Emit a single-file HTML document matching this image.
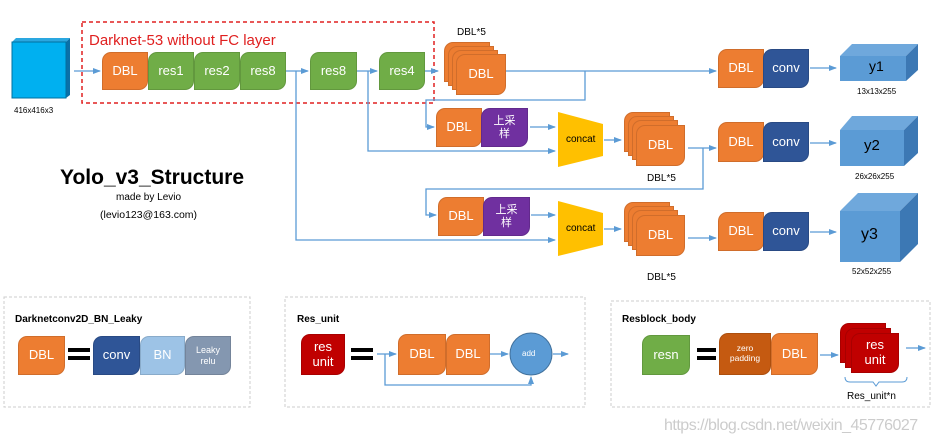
<!DOCTYPE html>
<html><head><meta charset="utf-8"><style>
body{margin:0;width:944px;height:443px;background:#fff;position:relative;overflow:hidden;font-family:"Liberation Sans","Noto Sans CJK SC",sans-serif}
.b{position:absolute;border-radius:9px 0 9px 0;color:#fff;display:flex;align-items:center;justify-content:center;text-align:center;font-size:13px;box-sizing:border-box;border:1px solid rgba(0,0,0,0.12);line-height:1.15}
.o{background:#ed7d31}.g{background:#70ad47}.p{background:#7030a0;font-size:11px}.c{background:#2f5597}.r{background:#c00000}
.t{position:absolute;white-space:nowrap}
svg{position:absolute;left:0;top:0}
</style></head><body>
<svg width="944" height="443">
<defs><marker id="a" markerWidth="8" markerHeight="8" refX="7" refY="4" orient="auto" markerUnits="userSpaceOnUse"><path d="M0,1 L8,4 L0,7z" fill="#5b9bd5"/></marker></defs>
<rect x="82" y="22" width="352" height="81" fill="none" stroke="#e02020" stroke-width="1.5" stroke-dasharray="4,3"/>
<!-- cube -->
<polygon points="12,42 16,38 70,38 66,42" fill="#2aa7e0"/><polygon points="66,42 70,38 70,95 66,98" fill="#0a70a8"/>
<rect x="12" y="42" width="54" height="56" fill="#00b0f0" stroke="#0070a0"/>
<g stroke="#5b9bd5" stroke-width="1.3" fill="none">
<path d="M74,71 H100" marker-end="url(#a)"/>
<path d="M286,71 H308" marker-end="url(#a)"/>
<path d="M357,71 H377" marker-end="url(#a)"/>
<path d="M425,71 H438" marker-end="url(#a)"/>
<path d="M505,71 H716" marker-end="url(#a)"/>
<path d="M585,71 V100 H426 V127 H434" marker-end="url(#a)"/>
<path d="M368,71 V151 H555" marker-end="url(#a)"/>
<path d="M296,71 V240 H555" marker-end="url(#a)"/>
<path d="M530,127 H555" marker-end="url(#a)"/>
<path d="M604,140 H621" marker-end="url(#a)"/>
<path d="M688,148 H716" marker-end="url(#a)"/>
<path d="M703,148 V189 H426 V215 H436" marker-end="url(#a)"/>
<path d="M531,215 H555" marker-end="url(#a)"/>
<path d="M604,229 H621" marker-end="url(#a)"/>
<path d="M688,238 H716" marker-end="url(#a)"/>
<path d="M810,68 H836" marker-end="url(#a)"/>
<path d="M810,143 H836" marker-end="url(#a)"/>
<path d="M810,232 H836" marker-end="url(#a)"/>
<path d="M377,354 H396" marker-end="url(#a)"/>
<path d="M490,354 H508" marker-end="url(#a)"/>
<path d="M553,354 H568" marker-end="url(#a)"/>
<path d="M385,354 V385 H531 V377" marker-end="url(#a)"/>
<path d="M820,355 H838" marker-end="url(#a)"/>
<path d="M906,348 H925" marker-end="url(#a)"/>
</g>
<path d="M845,377 Q845,382 850,382 H873 L876,386 L879,382 H902 Q907,382 907,377" stroke="#5b9bd5" fill="none"/>
<!-- concat -->
<polygon points="558,112 603,124 603,156 558,167" fill="#ffc000"/>
<polygon points="558,201 603,213 603,245 558,256" fill="#ffc000"/>
<!-- cubes y -->
<polygon points="840,56 852,44 918,44 906,56" fill="#6fa8dc"/><polygon points="906,56 918,44 918,70 906,81" fill="#3c78b4"/><rect x="840" y="56" width="66" height="25" fill="#5b9bd5"/>
<polygon points="840,130 852,116 918,116 904,130" fill="#6fa8dc"/><polygon points="904,130 918,116 918,153 904,166" fill="#3c78b4"/><rect x="840" y="130" width="64" height="36" fill="#5b9bd5"/>
<polygon points="840,211 858,193 918,193 900,211" fill="#6fa8dc"/><polygon points="900,211 918,193 918,244 900,262" fill="#3c78b4"/><rect x="840" y="211" width="60" height="51" fill="#5b9bd5"/>
<!-- panels -->
<g fill="none" stroke="#ccc" stroke-dasharray="3,2"><rect x="4" y="297" width="246" height="110"/><rect x="285" y="297" width="300" height="110"/><rect x="611" y="301" width="319" height="106"/></g>
<circle cx="531" cy="354" r="21" fill="#5b9bd5" stroke="#41719c"/>
<g fill="#000"><rect x="68" y="348" width="22" height="4"/><rect x="68" y="356" width="22" height="4"/><rect x="351" y="348" width="22" height="4"/><rect x="351" y="356" width="22" height="4"/><rect x="697" y="348" width="19" height="4"/><rect x="697" y="356" width="19" height="4"/></g>
</svg>
<div class="t" style="left:89px;top:32px;color:#e02020;font-size:15px">Darknet-53 without FC layer</div>
<div class="b o" style="left:102px;top:52px;width:46px;height:38px">DBL</div>
<div class="b g" style="left:148px;top:52px;width:46px;height:38px">res1</div>
<div class="b g" style="left:194px;top:52px;width:46px;height:38px">res2</div>
<div class="b g" style="left:240px;top:52px;width:46px;height:38px">res8</div>
<div class="b g" style="left:310px;top:52px;width:47px;height:38px">res8</div>
<div class="b g" style="left:379px;top:52px;width:46px;height:38px">res4</div>
<div class="t" style="left:14px;top:106px;font-size:8px">416x416x3</div>
<!-- stack 1 -->
<div class="b o" style="left:444px;top:42px;width:46px;height:40px"></div>
<div class="b o" style="left:448px;top:46px;width:46px;height:40px"></div>
<div class="b o" style="left:452px;top:50px;width:46px;height:40px"></div>
<div class="b o" style="left:456px;top:54px;width:50px;height:41px">DBL</div>
<div class="t" style="left:457px;top:27px;font-size:10px">DBL*5</div>
<div class="b o" style="left:718px;top:49px;width:46px;height:39px">DBL</div>
<div class="b c" style="left:763px;top:49px;width:46px;height:39px">conv</div>
<div class="t" style="left:869px;top:58px;font-size:14px">y1</div>
<div class="t" style="left:857px;top:87px;font-size:8px">13x13x255</div>
<!-- row2 -->
<div class="b o" style="left:436px;top:108px;width:46px;height:39px">DBL</div>
<div class="b p" style="left:481px;top:108px;width:47px;height:39px">上采<br>样</div>
<div class="t" style="left:566px;top:134px;font-size:10px">concat</div>
<div class="b o" style="left:624px;top:112px;width:46px;height:40px"></div>
<div class="b o" style="left:628px;top:116px;width:46px;height:40px"></div>
<div class="b o" style="left:632px;top:120px;width:46px;height:40px"></div>
<div class="b o" style="left:636px;top:125px;width:49px;height:41px">DBL</div>
<div class="t" style="left:647px;top:173px;font-size:10px">DBL*5</div>
<div class="b o" style="left:718px;top:122px;width:46px;height:40px">DBL</div>
<div class="b c" style="left:763px;top:122px;width:46px;height:40px">conv</div>
<div class="t" style="left:864px;top:137px;font-size:15px">y2</div>
<div class="t" style="left:855px;top:172px;font-size:8px">26x26x255</div>
<!-- row3 -->
<div class="b o" style="left:438px;top:197px;width:46px;height:39px">DBL</div>
<div class="b p" style="left:483px;top:197px;width:47px;height:39px">上采<br>样</div>
<div class="t" style="left:566px;top:223px;font-size:10px">concat</div>
<div class="b o" style="left:624px;top:202px;width:46px;height:40px"></div>
<div class="b o" style="left:628px;top:206px;width:46px;height:40px"></div>
<div class="b o" style="left:632px;top:210px;width:46px;height:40px"></div>
<div class="b o" style="left:636px;top:215px;width:49px;height:41px">DBL</div>
<div class="t" style="left:647px;top:272px;font-size:10px">DBL*5</div>
<div class="b o" style="left:718px;top:212px;width:46px;height:39px">DBL</div>
<div class="b c" style="left:763px;top:212px;width:46px;height:39px">conv</div>
<div class="t" style="left:861px;top:226px;font-size:16px">y3</div>
<div class="t" style="left:852px;top:267px;font-size:8px">52x52x255</div>
<!-- title -->
<div class="t" style="left:60px;top:166px;font-size:21px;font-weight:bold">Yolo_v3_Structure</div>
<div class="t" style="left:116px;top:192px;font-size:10px">made by Levio</div>
<div class="t" style="left:100px;top:209px;font-size:10.5px">(levio123@163.com)</div>
<!-- panel 1 -->
<div class="t" style="left:15px;top:314px;font-size:10px;font-weight:bold">Darknetconv2D_BN_Leaky</div>
<div class="b o" style="left:18px;top:336px;width:47px;height:39px">DBL</div>
<div class="b c" style="left:93px;top:336px;width:47px;height:39px">conv</div>
<div class="b" style="left:140px;top:336px;width:45px;height:39px;background:#9dc3e6">BN</div>
<div class="b" style="left:185px;top:336px;width:46px;height:39px;background:#8497b0;font-size:9px">Leaky<br>relu</div>
<!-- panel 2 -->
<div class="t" style="left:297px;top:314px;font-size:10px;font-weight:bold">Res_unit</div>
<div class="b r" style="left:301px;top:334px;width:44px;height:41px">res<br>unit</div>
<div class="b o" style="left:398px;top:334px;width:48px;height:41px">DBL</div>
<div class="b o" style="left:446px;top:334px;width:44px;height:41px">DBL</div>
<div class="t" style="left:522px;top:349px;font-size:8px;color:#fff">add</div>
<!-- panel 3 -->
<div class="t" style="left:622px;top:314px;font-size:10px;font-weight:bold">Resblock_body</div>
<div class="b g" style="left:642px;top:335px;width:48px;height:40px">resn</div>
<div class="b" style="left:719px;top:333px;width:52px;height:42px;background:#c55a11;font-size:8.5px">zero<br>padding</div>
<div class="b o" style="left:771px;top:333px;width:47px;height:42px">DBL</div>
<div class="b r" style="left:840px;top:323px;width:46px;height:40px"></div>
<div class="b r" style="left:845px;top:328px;width:46px;height:40px"></div>
<div class="b r" style="left:851px;top:333px;width:48px;height:40px">res<br>unit</div>
<div class="t" style="left:847px;top:391px;font-size:10px">Res_unit*n</div>
<div class="t" style="left:664px;top:417px;font-size:16px;color:#ccc;letter-spacing:-0.5px">https://blog.csdn.net/weixin_45776027</div>
</body></html>
